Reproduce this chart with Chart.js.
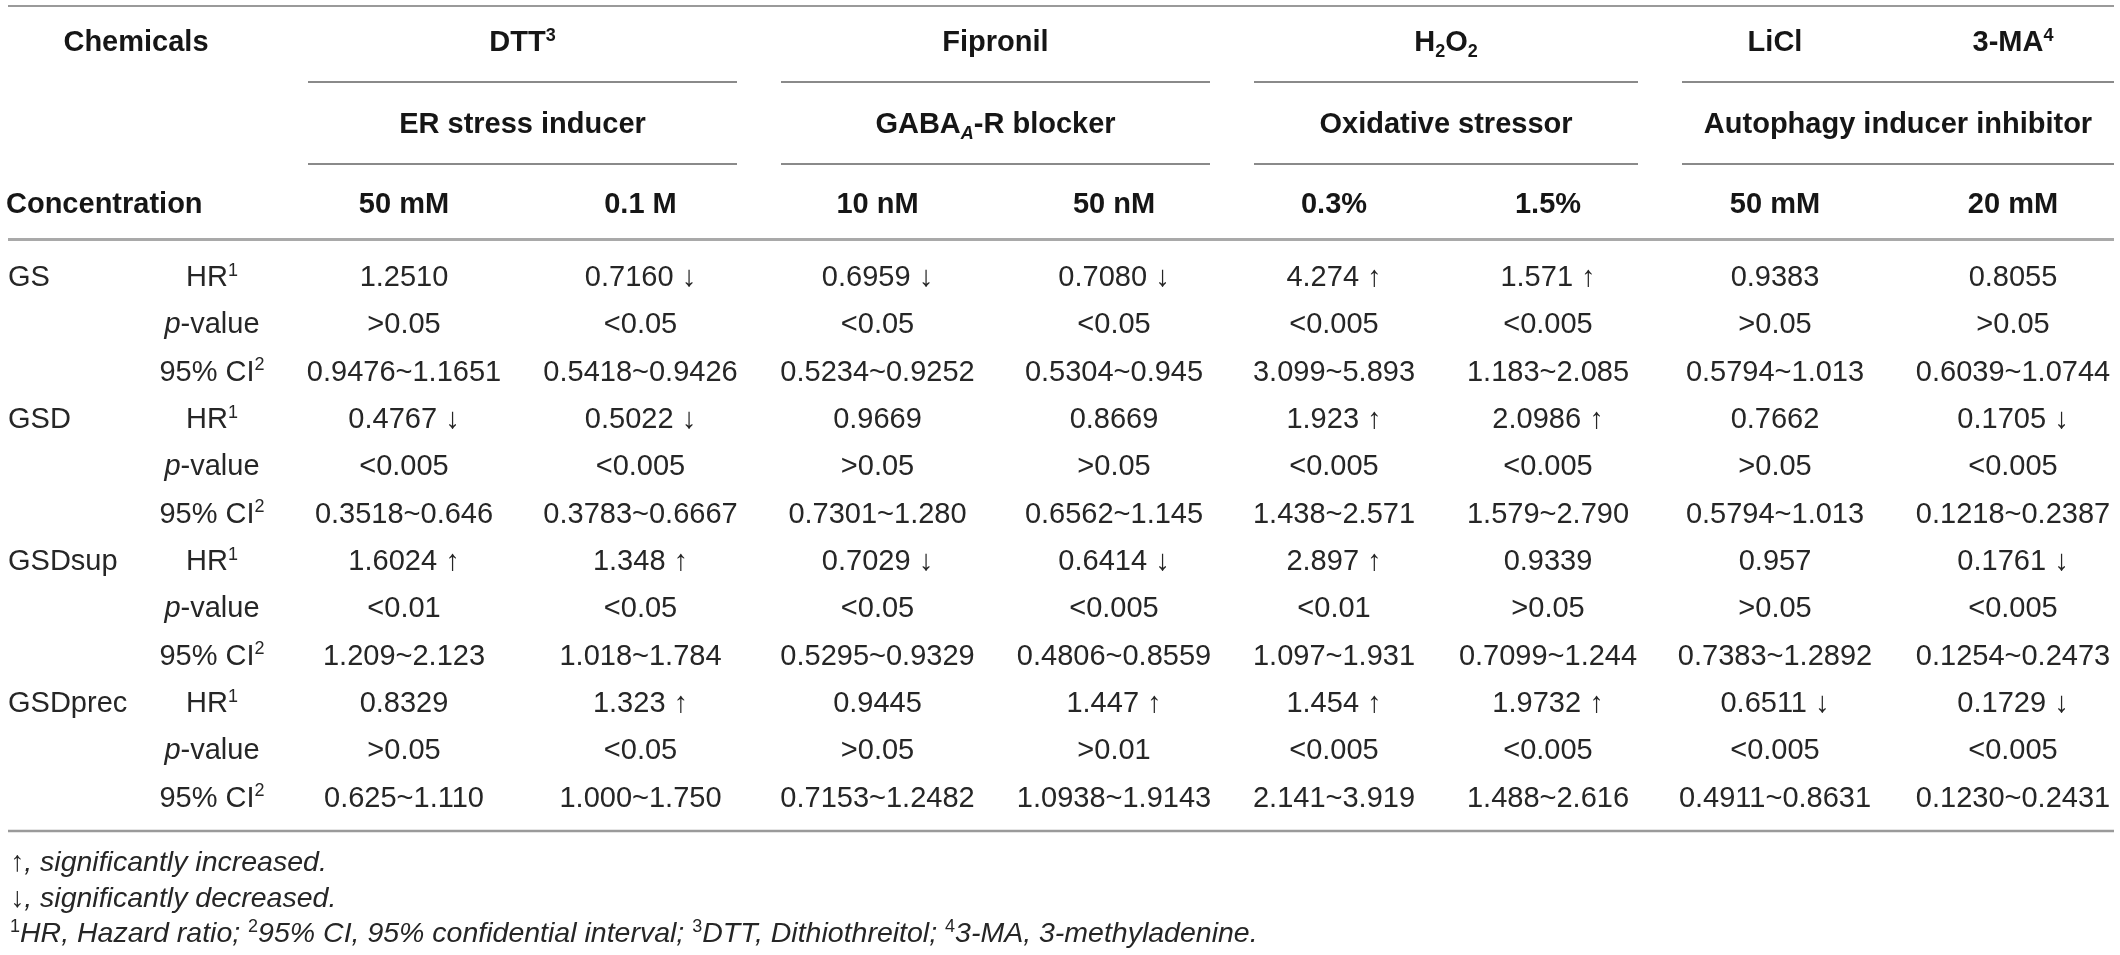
<!DOCTYPE html>
<html>
<head>
<meta charset="utf-8">
<script src="https://cdn.jsdelivr.net/npm/chart.js@4.4.1/dist/chart.umd.min.js"></script>
<style>
html,body{margin:0;padding:0;background:#ffffff;}
canvas{display:block;}
</style>
</head>
<body>
<canvas id="c" width="2120" height="955"></canvas>
<script>
// ---------- DATA ----------
const chemicalHeaders = ['DTT^{3}', 'Fipronil', 'H_{2}O_{2}', 'LiCl', '3-MA^{4}'];
const functionHeaders = ['ER stress inducer', 'GABA_{A}-R blocker', 'Oxidative stressor', 'Autophagy inducer inhibitor'];
const concentrations = ['50 mM', '0.1 M', '10 nM', '50 nM', '0.3%', '1.5%', '50 mM', '20 mM'];
const groups = ['GS', 'GSD', 'GSDsup', 'GSDprec'];
const measures = ['HR^{1}', '*p*-value', '95% CI^{2}'];

const GS_HR      = ['1.2510', '0.7160 ↓', '0.6959 ↓', '0.7080 ↓', '4.274 ↑', '1.571 ↑', '0.9383', '0.8055'];
const GS_P       = ['>0.05', '<0.05', '<0.05', '<0.05', '<0.005', '<0.005', '>0.05', '>0.05'];
const GS_CI      = ['0.9476~1.1651', '0.5418~0.9426', '0.5234~0.9252', '0.5304~0.945', '3.099~5.893', '1.183~2.085', '0.5794~1.013', '0.6039~1.0744'];
const GSD_HR     = ['0.4767 ↓', '0.5022 ↓', '0.9669', '0.8669', '1.923 ↑', '2.0986 ↑', '0.7662', '0.1705 ↓'];
const GSD_P      = ['<0.005', '<0.005', '>0.05', '>0.05', '<0.005', '<0.005', '>0.05', '<0.005'];
const GSD_CI     = ['0.3518~0.646', '0.3783~0.6667', '0.7301~1.280', '0.6562~1.145', '1.438~2.571', '1.579~2.790', '0.5794~1.013', '0.1218~0.2387'];
const GSDsup_HR  = ['1.6024 ↑', '1.348 ↑', '0.7029 ↓', '0.6414 ↓', '2.897 ↑', '0.9339', '0.957', '0.1761 ↓'];
const GSDsup_P   = ['<0.01', '<0.05', '<0.05', '<0.005', '<0.01', '>0.05', '>0.05', '<0.005'];
const GSDsup_CI  = ['1.209~2.123', '1.018~1.784', '0.5295~0.9329', '0.4806~0.8559', '1.097~1.931', '0.7099~1.244', '0.7383~1.2892', '0.1254~0.2473'];
const GSDprec_HR = ['0.8329', '1.323 ↑', '0.9445', '1.447 ↑', '1.454 ↑', '1.9732 ↑', '0.6511 ↓', '0.1729 ↓'];
const GSDprec_P  = ['>0.05', '<0.05', '>0.05', '>0.01', '<0.005', '<0.005', '<0.005', '<0.005'];
const GSDprec_CI = ['0.625~1.110', '1.000~1.750', '0.7153~1.2482', '1.0938~1.9143', '2.141~3.919', '1.488~2.616', '0.4911~0.8631', '0.1230~0.2431'];

const footnotes = [
  '*↑*, significantly increased.',
  '*↓*, significantly decreased.',
  '^{1}HR, Hazard ratio; ^{2}95% CI, 95% confidential interval; ^{3}DTT, Dithiothreitol; ^{4}3-MA, 3-methyladenine.'
];

// ---------- LAYOUT / STYLE ----------
const FONT = '"Liberation Sans", Arial, Helvetica, sans-serif';
const SIZE = 29;
const FOOT_SIZE = 28.5;
const colWidths = [286, 236, 237, 237, 236, 204, 224, 230, 246]; // label column + 8 data columns
const chemicalSpans = [[0, 1], [2, 3], [4, 5], [6, 6], [7, 7]];
const functionSpans = [[0, 1], [2, 3], [4, 5], [6, 7]];
const lineInset = 22;

const colLeft = [];
(function () { let acc = 0; colWidths.forEach(w => { colLeft.push(acc); acc += w; }); })();
const dataColLeft = c => colLeft[c + 1];
const dataColRight = c => colLeft[c + 1] + colWidths[c + 1];
const dataColCenter = c => dataColLeft(c) + colWidths[c + 1] / 2;

const rowSeries = [GS_HR, GS_P, GS_CI, GSD_HR, GSD_P, GSD_CI, GSDsup_HR, GSDsup_P, GSDsup_CI, GSDprec_HR, GSDprec_P, GSDprec_CI];
const rowKeys = [];
groups.forEach(g => measures.forEach(m => rowKeys.push(g + '|' + m)));

const cells = [];
rowSeries.forEach((arr, r) => arr.forEach((t, c) => cells.push({ x: dataColCenter(c), y: rowKeys[r], text: t })));

// ---------- RICH TEXT ----------
function parseRich(str, base) {
  const runs = [];
  let italic = base.italic, buf = '', i = 0;
  const push = () => { if (buf) runs.push({ t: buf, pos: null, bold: base.bold, italic }); buf = ''; };
  while (i < str.length) {
    const ch = str[i];
    if (ch === '*') { push(); italic = !italic; i++; continue; }
    if ((ch === '^' || ch === '_') && str[i + 1] === '{') {
      push();
      const end = str.indexOf('}', i);
      const inner = str.slice(i + 2, end);
      runs.push({ t: inner, pos: ch === '^' ? 'sup' : 'sub', bold: base.bold, italic: ch === '_' && /[A-Za-z]/.test(inner) });
      i = end + 1; continue;
    }
    buf += ch; i++;
  }
  push();
  return runs;
}
function drawRich(ctx, str, x, y, align, base, size, color) {
  const runs = parseRich(str, base);
  const fontOf = r => (r.italic ? 'italic ' : '') + (r.bold ? 'bold ' : '') + (r.pos ? Math.round(size * 0.62) : size) + 'px ' + FONT;
  let total = 0;
  runs.forEach(r => { ctx.font = fontOf(r); r.w = ctx.measureText(r.t).width; total += r.w; });
  let cx = align === 'center' ? x - total / 2 : (align === 'right' ? x - total : x);
  ctx.fillStyle = color;
  ctx.textAlign = 'left';
  ctx.textBaseline = 'alphabetic';
  runs.forEach(r => {
    ctx.font = fontOf(r);
    const dy = r.pos === 'sup' ? -size * 0.36 : (r.pos === 'sub' ? size * 0.22 : 0);
    ctx.fillText(r.t, cx, y + dy);
    cx += r.w;
  });
}
function hline(ctx, x1, x2, y, color, w) {
  ctx.save();
  ctx.strokeStyle = color; ctx.lineWidth = w;
  ctx.beginPath(); ctx.moveTo(x1, y); ctx.lineTo(x2, y); ctx.stroke();
  ctx.restore();
}

const TEXT = '#262626';
const HEAD = '#161616';

const tablePlugin = {
  id: 'tableText',
  afterDatasetsDraw(chart) {
    const { ctx, chartArea, scales } = chart;
    const xs = scales.x, ys = scales.y;
    const T = chartArea.top, B = chartArea.bottom;
    const px = v => xs.getPixelForValue(v);
    const half = SIZE * 0.36;
    ctx.save();

    // rules
    hline(ctx, px(8), px(2114), T - 246, '#9a9a9a', 2);
    functionSpans.forEach(([a, b]) => {
      hline(ctx, px(dataColLeft(a) + lineInset), px(dataColRight(b) - lineInset), T - 170, '#8a8a8a', 2);
      hline(ctx, px(dataColLeft(a) + lineInset), px(dataColRight(b) - lineInset), T - 88, '#8a8a8a', 2);
    });
    hline(ctx, px(8), px(2114), T - 12.5, '#a9a9a9', 3);
    hline(ctx, px(8), px(2114), B + 11, '#9a9a9a', 2.5);

    // header row 1
    drawRich(ctx, 'Chemicals', px(136), T - 201, 'center', { bold: true, italic: false }, SIZE, HEAD);
    chemicalHeaders.forEach((h, i) => {
      const [a, b] = chemicalSpans[i];
      drawRich(ctx, h, px((dataColLeft(a) + dataColRight(b)) / 2), T - 201, 'center', { bold: true, italic: false }, SIZE, HEAD);
    });
    // header row 2
    functionHeaders.forEach((h, i) => {
      const [a, b] = functionSpans[i];
      drawRich(ctx, h, px((dataColLeft(a) + dataColRight(b)) / 2), T - 119, 'center', { bold: true, italic: false }, SIZE, HEAD);
    });
    // header row 3
    drawRich(ctx, 'Concentration', px(6), T - 39, 'left', { bold: true, italic: false }, SIZE, HEAD);
    concentrations.forEach((h, c) => {
      drawRich(ctx, h, px(dataColCenter(c)), T - 39, 'center', { bold: true, italic: false }, SIZE, HEAD);
    });

    // row labels
    rowKeys.forEach((k, r) => {
      const yy = ys.getPixelForValue(r) + half;
      const [g, m] = k.split('|');
      if (r % measures.length === 0) drawRich(ctx, g, px(8), yy, 'left', { bold: false, italic: false }, SIZE, TEXT);
      drawRich(ctx, m, px(212), yy, 'center', { bold: false, italic: false }, SIZE, TEXT);
    });

    // cells from dataset elements
    const meta = chart.getDatasetMeta(0);
    meta.data.forEach((el, i) => {
      drawRich(ctx, cells[i].text, el.x, el.y + half, 'center', { bold: false, italic: false }, SIZE, TEXT);
    });

    // footnotes
    const fy = [B + 51, B + 87, B + 122];
    footnotes.forEach((f, i) => drawRich(ctx, f, px(10), fy[i], 'left', { bold: false, italic: true }, FOOT_SIZE, TEXT));
    ctx.restore();
  }
};

new Chart(document.getElementById('c'), {
  type: 'scatter',
  data: {
    datasets: [{
      data: cells,
      pointRadius: 0,
      pointHoverRadius: 0,
      showLine: false
    }]
  },
  options: {
    responsive: false,
    animation: false,
    devicePixelRatio: 1,
    events: [],
    layout: { padding: { top: 252, bottom: 135, left: 0, right: 0 } },
    plugins: { legend: { display: false }, tooltip: { enabled: false } },
    scales: {
      x: { type: 'linear', min: 0, max: 2120, display: false },
      y: { type: 'category', labels: rowKeys, offset: true, display: false }
    }
  },
  plugins: [tablePlugin]
});
</script>
</body>
</html>
